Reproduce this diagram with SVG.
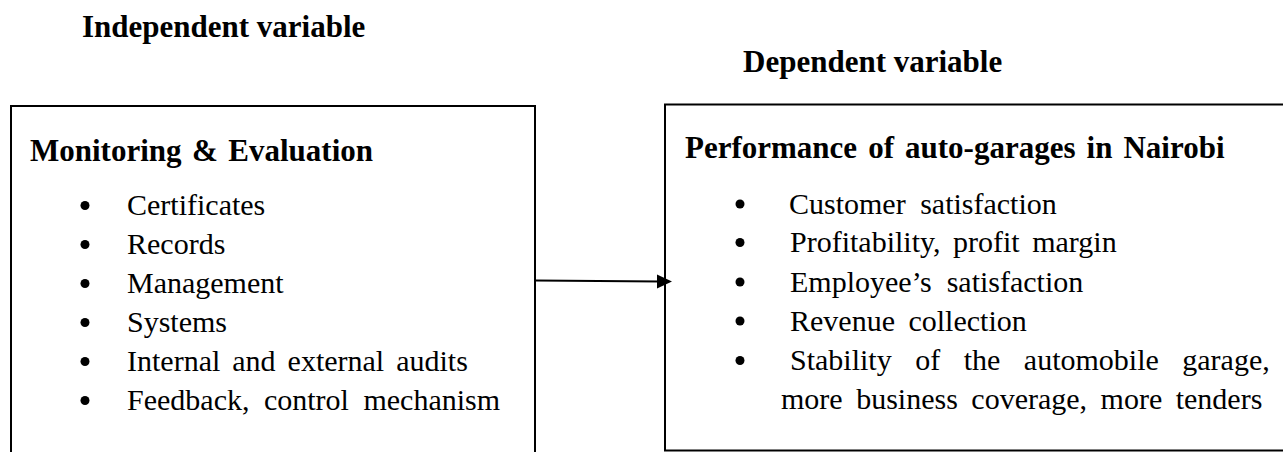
<svg xmlns="http://www.w3.org/2000/svg" width="1283" height="452" viewBox="0 0 1283 452">
<style>
  .t { font-family: 'Liberation Serif', 'Times New Roman', Times, 'DejaVu Serif', serif; fill: #000; }
  .head { font-size: 31px; font-weight: bold; }
  .item { font-size: 30px; }
  .box { fill: #fff; stroke: #000; stroke-width: 2; }
  .bullet { fill: #000; }
  .conn { stroke: #000; stroke-width: 2; fill: none; }
</style>
<rect x="0" y="0" width="1283" height="452" fill="#fff"/>
<g id="label-independent">
  <text class="t head" font-family="Liberation Serif, serif" x="82" y="37">Independent variable</text>
</g>
<g id="label-dependent">
  <text class="t head" font-family="Liberation Serif, serif" x="743" y="72">Dependent variable</text>
</g>
<g id="node-monitoring" font-family="Liberation Serif, serif">
  <rect class="box" x="11" y="106" width="524" height="370"/>
  <text class="t head" x="30" y="160.5" word-spacing="2.7">Monitoring &amp; Evaluation</text>
  <circle class="bullet" cx="85" cy="205.5" r="4.5"/>
  <text class="t item" x="127" y="215">Certificates</text>
  <circle class="bullet" cx="85" cy="244.5" r="4.5"/>
  <text class="t item" x="127" y="254">Records</text>
  <circle class="bullet" cx="85" cy="283.5" r="4.5"/>
  <text class="t item" x="127" y="293">Management</text>
  <circle class="bullet" cx="85" cy="322.5" r="4.5"/>
  <text class="t item" x="127" y="332">Systems</text>
  <circle class="bullet" cx="85" cy="361.5" r="4.5"/>
  <text class="t item" x="127" y="371" word-spacing="4.5">Internal and external audits</text>
  <circle class="bullet" cx="85" cy="400.5" r="4.5"/>
  <text class="t item" x="127" y="410" word-spacing="7">Feedback, control mechanism</text>
</g>
<g id="node-performance" font-family="Liberation Serif, serif">
  <rect class="box" x="665" y="104.5" width="640" height="346"/>
  <text class="t head" x="685" y="157.5" word-spacing="3.3">Performance of auto-garages in Nairobi</text>
  <circle class="bullet" cx="740" cy="204" r="4.5"/>
  <text class="t item" x="789" y="213.5" word-spacing="7">Customer satisfaction</text>
  <circle class="bullet" cx="740" cy="242.5" r="4.5"/>
  <text class="t item" x="790" y="252" word-spacing="5">Profitability, profit margin</text>
  <circle class="bullet" cx="740" cy="282" r="4.5"/>
  <text class="t item" x="790" y="291.5" word-spacing="7.5">Employee’s satisfaction</text>
  <circle class="bullet" cx="740" cy="321" r="4.5"/>
  <text class="t item" x="790" y="330.5" word-spacing="6">Revenue collection</text>
  <circle class="bullet" cx="740" cy="360.5" r="4.5"/>
  <text class="t item" x="790" y="370" word-spacing="16">Stability of the automobile garage,</text>
  <text class="t item" x="781" y="409" word-spacing="6">more business coverage, more tenders</text>
</g>
<g id="connectors">
  <line class="conn" x1="536" y1="280.5" x2="660" y2="281.5"/>
  <polygon points="657,274.5 672,281.5 657,288.5" fill="#000"/>
</g>
</svg>
